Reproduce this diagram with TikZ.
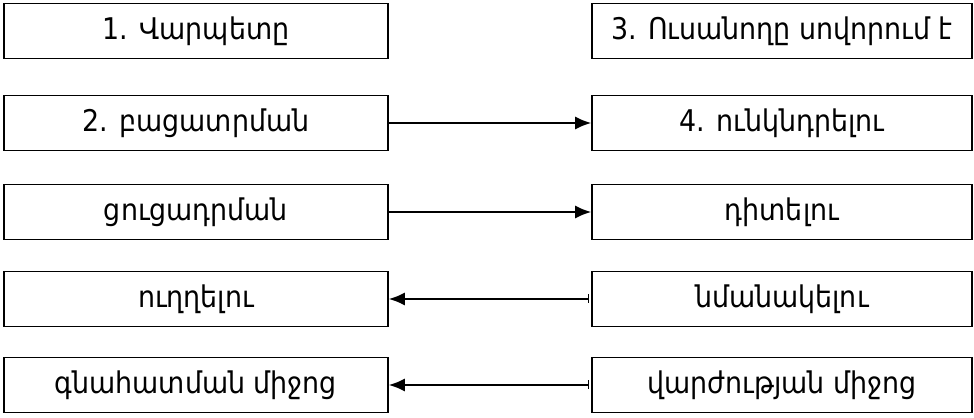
\documentclass[tikz,border=0pt]{standalone}
\usepackage{fontspec}
\newfontfamily\armfont{DejaVu Sans Condensed}
\usetikzlibrary{arrows.meta}
\begin{document}
\begin{tikzpicture}[x=0.02cm, y=-0.02cm,
% common options for the boxes:
box/.style = {draw, line width=1pt, align=center, inner sep=0,
            minimum height=1.1cm, font=\armfont\fontsize{17}{20}\selectfont},
lbox/.style = {box, minimum width=7.68cm},
rbox/.style = {box, minimum width=7.6cm},
% common options for the connectors:
link/.style = {line width=0.9pt, -{Latex[length=0.32cm,width=0.26cm]}},
back/.style = {line width=0.9pt, {Bar[width=0.18cm,line width=0.9pt]}-{Latex[length=0.32cm,width=0.26cm]}}]
\useasboundingbox (0,0) rectangle (974,418);
\node[lbox] (L1) at (196,31) {1. Վարպետը};
\node[lbox] (L2) at (196,123) {2. բացատրման};
\node[lbox] (L3) at (196,212) {ցուցադրման};
\node[lbox] (L4) at (196,299) {ուղղելու};
\node[lbox] (L5) at (196,385) {գնահատման միջոց};
\node[rbox] (R1) at (782,31) {3. Ուսանողը սովորում է};
\node[rbox] (R2) at (782,123) {4. ունկնդրելու};
\node[rbox] (R3) at (782,212) {դիտելու};
\node[rbox] (R4) at (782,299) {նմանակելու};
\node[rbox] (R5) at (782,385) {վարժության միջոց};
\draw[link] (L2.east) to (R2.west);
\draw[link] (L3.east) to (R3.west);
\draw[back] ([xshift=-1pt]R4.west) to (L4.east);
\draw[back] ([xshift=-1pt]R5.west) to (L5.east);
\end{tikzpicture}
\end{document}
